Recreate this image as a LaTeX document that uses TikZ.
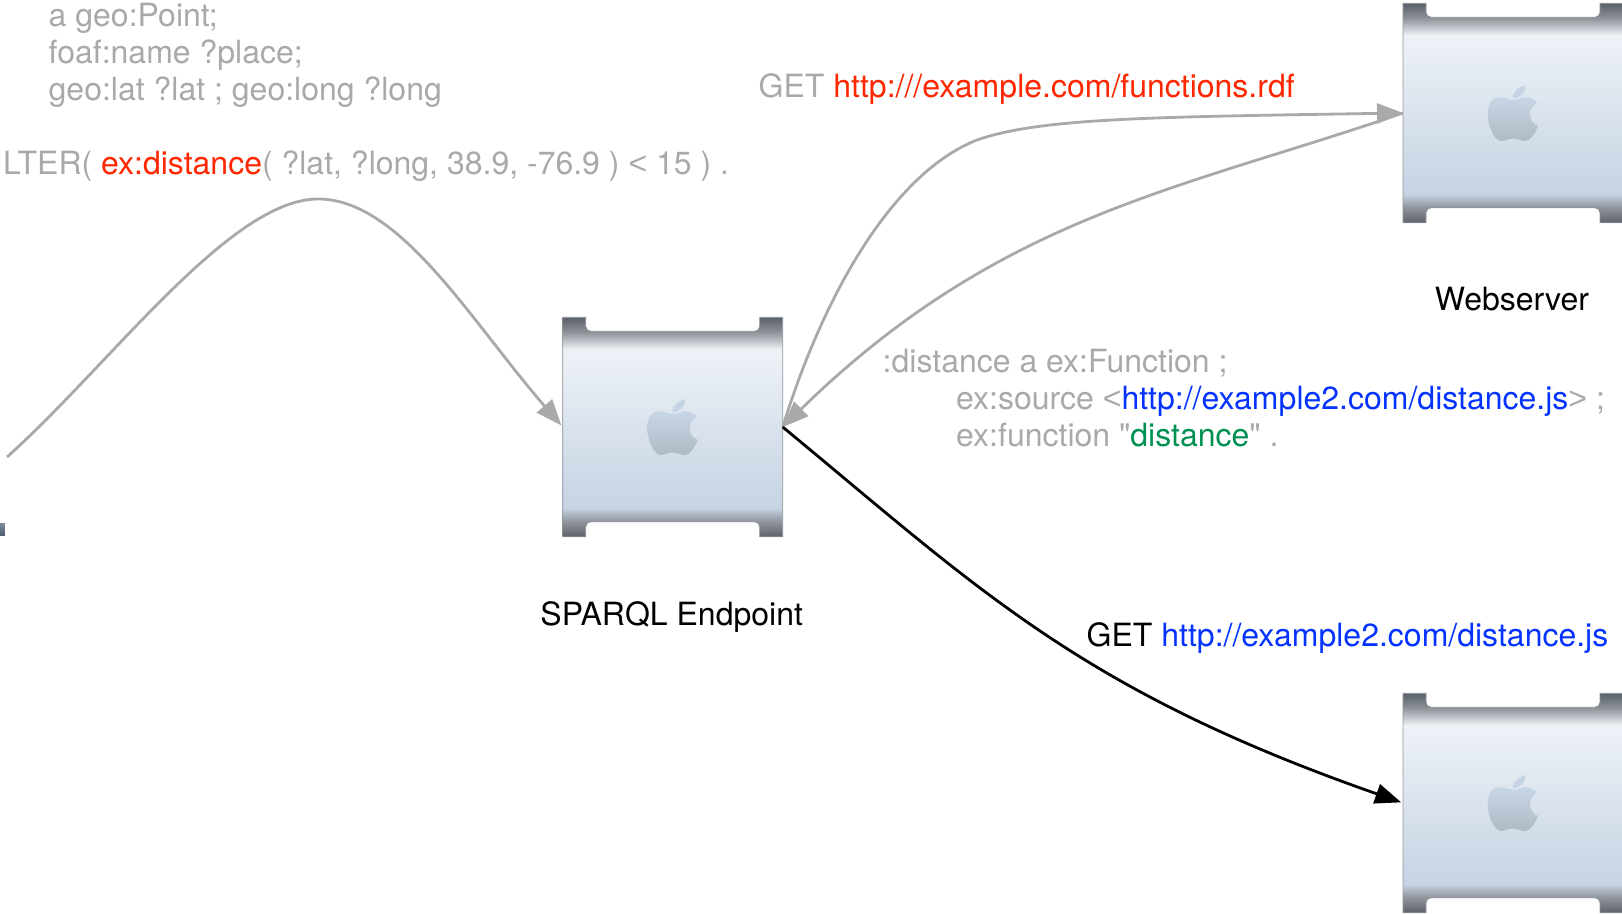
\documentclass[tikz,border=0pt]{standalone}
\usepackage{fontspec}
\defaultfontfeatures[\rmfamily]{}
\setmainfont{TeX Gyre Heros}
\newfontfamily\signfont{Liberation Sans}
\usepackage{xcolor}
\usepackage{tikz}
\usetikzlibrary{positioning}
\usetikzlibrary{arrows.meta}
\definecolor{txtgray}{HTML}{A9A9A9}
\definecolor{txtred}{HTML}{FF2600}
\definecolor{txtblue}{HTML}{0433FF}
\definecolor{txtgreen}{HTML}{009051}
\definecolor{srvA}{HTML}{5A6068}
\definecolor{srvB}{HTML}{8A8F95}
\definecolor{srvC}{HTML}{EEF2F7}
\definecolor{srvD}{HTML}{C5D3E3}
\definecolor{srvE}{HTML}{90959C}
\definecolor{srvF}{HTML}{5E636A}
\pgfdeclareverticalshading{srvbody}{100bp}{
  color(0bp)=(srvF); color(25bp)=(srvF); color(28.5bp)=(srvE); color(31.5bp)=(srvD);
  color(67.7bp)=(srvC); color(71.8bp)=(srvB); color(75bp)=(srvA); color(100bp)=(srvA)}
\newcommand{\SRV}{
  \begin{tikzpicture}[x=1pt,y=-1pt]
    \useasboundingbox (0,0) rectangle (220,219.5);
    \path[shading=srvbody,draw=srvE,line width=.8pt] (0,0) -- (23,0) [rounded corners=5pt] -- (23,14) -- (197,14) [sharp corners] -- (197,0) -- (220,0)
      -- (220,219.5) -- (197,219.5) [rounded corners=5pt] -- (197,204.5) -- (23,204.5) [sharp corners] -- (23,219.5) -- (0,219.5) -- cycle;
    \path[top color=srvD!95!white,bottom color=srvD!70!gray] (112,96.7) .. controls (106,96.7) and (102,94) .. (96,94)
      .. controls (88,94) and (84.7,102) .. (84.7,111)
      .. controls (84.7,122) and (91,137.7) .. (98,137.7)
      .. controls (103,137.7) and (105,135.3) .. (110,135.3)
      .. controls (115,135.3) and (117,137.7) .. (122,137.7)
      .. controls (128,137.7) and (133,128) .. (135,122.7)
      .. controls (130,121) and (127,116) .. (127,111)
      .. controls (127,106) and (130,102) .. (134,99.3)
      .. controls (130,95) and (126,94) .. (122,94)
      .. controls (118,94) and (115,96.7) .. (112,96.7) -- cycle;
    \path[fill=srvD] (109.7,95.3) .. controls (110,88) and (115,84) .. (122.3,82) .. controls (123,89) and (118,94) .. (109.7,95.3) -- cycle;
  \end{tikzpicture}
}
\tikzset{
  srvnode/.style={inner sep=+0pt,outer sep=+0pt},
  txt/.style={anchor=base west,inner sep=+0pt,align=left,font=\fontsize{32pt}{37pt}\selectfont,text=txtgray},
  tip/.style={-{Triangle[length=26pt,width=20pt]}},
  flow/.style={draw=txtgray,line width=2.8pt,tip},
  call/.style={draw=black,line width=2.8pt,tip}
}
\definecolor{cutA}{HTML}{7C8A98}
\definecolor{cutB}{HTML}{4F6070}
\begin{document}
\begin{tikzpicture}[x=1pt,y=-1pt]
\useasboundingbox (0,0) rectangle (1622,913);
\node[srvnode] (E) at (672.7,427) {\SRV};
\node[srvnode] (W) at (1513,113) {\SRV};
\node[srvnode] (F) at (1513,803) {\SRV};
\node[inner sep=+0pt,minimum width=5pt,minimum height=12pt,anchor=north east,top color=cutA,bottom color=cutB] (C) at (5,523) {};
\node[txt,anchor=base] (EL) at (671.7,625) {\color{black}SPARQL Endpoint};
\node[txt,anchor=base] (WL) at (1512,310) {\color{black}Webserver};
\node[txt] (Q1) at (48.5,100) {a geo:Point;\\foaf:name ?place;\\geo:lat ?lat ; geo:long ?long};
\node[txt] (Q2) at (3,174) {LTER( {\color{txtred}ex:distance}( ?lat, ?long, 38.9, -76.9 ) {\signfont <} 15 ) .};
\node[txt] (G1) at (758.5,97) {GET {\color{txtred}http:///example.com/functions.rdf}};
\node[txt] (D1) at (882.5,446) {:distance a ex:Function ;\\\hspace*{73.5pt}ex:source {\signfont <}{\color{txtblue}http://example2.com/distance.js}{\signfont >} ;\\\hspace*{73.5pt}ex:function "{\color{txtgreen}distance}" .};
\node[txt] (G2) at (1086.5,646) {\color{black}GET {\color{txtblue}http://example2.com/distance.js}};
\coordinate (S) at (7,457);
\coordinate (P) at (318,199);
\coordinate (M) at (977,140);
\draw[flow,shorten >=2pt] (S) .. controls (110,365) and (230,199) .. (P) .. controls (400,199) and (470,320) .. (E.west);
\draw[flow] (E.east) .. controls (825,290) and (895,172) .. (M) .. controls (1040,118) and (1150,117) .. (W.west);
\draw[flow] (W.west) .. controls (1180,190) and (1000,215) .. (E.east);
\draw[call,shorten >=2pt] (E.east) .. controls (980,590) and (1080,690) .. (F.west);
\end{tikzpicture}
\end{document}
